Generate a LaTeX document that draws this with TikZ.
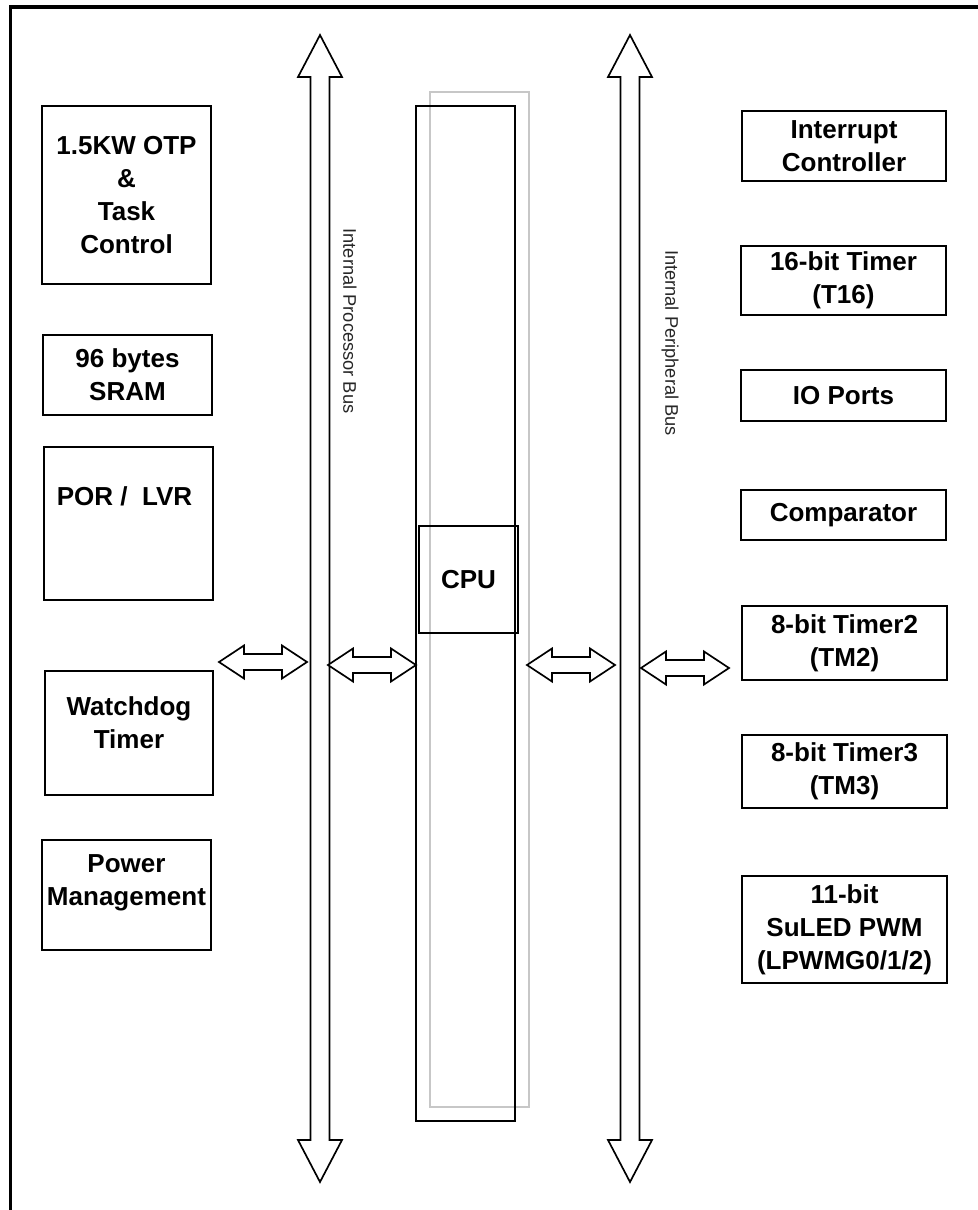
\documentclass[tikz,border=0pt]{standalone}
\usepackage{fontspec}
\setmainfont{Liberation Sans}
\usetikzlibrary{positioning,calc}

% hollow bus arrow, vertical, centred on x=#1
\newcommand{\vbus}[1]{%
  \draw[hollow] (#1,35) -- ({#1+22},77) -- ({#1+9.5},77) -- ({#1+9.5},1140)
    -- ({#1+22},1140) -- (#1,1182) -- ({#1-22},1140) -- ({#1-9.5},1140)
    -- ({#1-9.5},77) -- ({#1-22},77) -- cycle;}
% hollow double arrow, horizontal, starting at coordinate #1
\newcommand{\hlink}[1]{%
  \draw[hollow] (#1) -- ++(25,-16.5) -- ++(0,8.5) -- ++(38,0) -- ++(0,-8.5)
    -- ++(25,16.5) -- ++(-25,16.5) -- ++(0,-8.5) -- ++(-38,0) -- ++(0,8.5) -- cycle;}

\begin{document}
\begin{tikzpicture}[
  x=0.025cm, y=-0.025cm,
  box/.style={
    draw=black, line width=1.4pt, align=center, inner sep=2pt,
    font=\bfseries\fontsize{18.5}{23.5}\selectfont
  },
  lbox/.style={box, minimum width=4.2cm},
  rbox/.style={box, minimum width=5.1cm},
  col/.style={draw, line width=1.4pt, minimum width=2.475cm, minimum height=25.375cm},
  hollow/.style={draw=black, line width=1.2pt, fill=white, line join=miter},
  buslabel/.style={rotate=-90, font=\fontsize{13}{15}\selectfont, text=black!85}
]
  \useasboundingbox (0,0) rectangle (978,1210);
  \draw[line width=2.5pt, line join=miter] (978,7) -- (10.5,7) -- (10.5,1210);

  % left column
  \node[lbox, minimum height=4.45cm] (otp) at (126.5,195) {1.5KW OTP\\\&\\Task\\Control};
  \node[lbox, minimum height=2cm] (sram) at (127.5,375) {96 bytes\\SRAM};
  \node[lbox, minimum height=3.825cm] (por) at (128.5,523.5) {};
  \node[box, draw=none] (portext) at ($(por.north)+(-4,50)$) {POR /\ \ LVR};
  \node[lbox, minimum height=3.1cm, text depth=0.5cm] (wdt) at (129,733) {Watchdog\\Timer};
  \node[lbox, minimum height=2.75cm, text depth=0.75cm] (pmu) at (126.5,895) {Power\\Management};

  % right column
  \node[rbox, minimum height=1.75cm] (intc) at (844,146) {Interrupt\\Controller};
  \node[rbox, minimum height=1.725cm] (t16) at (843.5,280.5) {16-bit Timer\\(T16)};
  \node[rbox, minimum height=1.275cm] (io) at (843.5,395.5) {IO Ports};
  \node[rbox, minimum height=1.25cm] (cmp) at (843.5,515) {Comparator};
  \node[rbox, minimum height=1.85cm] (tm2) at (844.5,643) {8-bit Timer2\\(TM2)};
  \node[rbox, minimum height=1.825cm] (tm3) at (844.5,771.5) {8-bit Timer3\\(TM3)};
  \node[rbox, minimum height=2.675cm] (pwm) at (844.5,929.5) {11-bit\\SuLED PWM\\(LPWMG0/1/2)};

  % cpu
  \node[col, draw=black!22] (cpushadow) at (479.5,599.5) {};
  \node[col] (cpucol) at (465.5,613.5) {};
  \node[box, minimum width=2.475cm, minimum height=2.675cm] (cpu) at (468.5,579.5) {CPU};

  % buses
  \vbus{320}
  \vbus{630}
  \node[buslabel] (ipbus) at (350,321) {Internal Processor Bus};
  \node[buslabel] (ppbus) at (670,343) {Internal Peripheral Bus};

  % links
  \coordinate (lnk1) at (219,662);
  \coordinate (lnk2) at (328,665);
  \coordinate (lnk3) at (527,665);
  \coordinate (lnk4) at (641,668);
  \hlink{lnk1}
  \hlink{lnk2}
  \hlink{lnk3}
  \hlink{lnk4}
\end{tikzpicture}
\end{document}
